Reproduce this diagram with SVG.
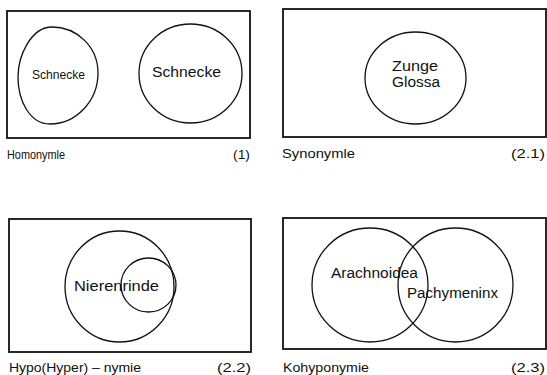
<svg xmlns="http://www.w3.org/2000/svg" width="547" height="375" viewBox="0 0 547 375">
<style>
.frame{fill:none;stroke:#111;stroke-width:1.8}
.set{fill:none;stroke:#111;stroke-width:1.3}
text{font-family:"Liberation Sans","DejaVu Sans",Arial,sans-serif;fill:#111}
.lbl{font-size:14px}
.cap{font-size:12.5px}
.mid{text-anchor:middle}
</style>
<rect width="547" height="375" fill="#fff"/>
<g id="panel-1">
  <rect class="frame" x="7" y="11" width="243" height="127"/>
  <g id="node-schnecke-1">
    <path class="set" d="M52,27 C76,27 98,46 98,73 C98,101 76,124 50,124 C30,124 18,101 18,77 C18,56 31,27 52,27 Z"/>
    <text class="mid" x="58.5" y="79" font-size="12" textLength="53" lengthAdjust="spacingAndGlyphs">Schnecke</text>
  </g>
  <g id="node-schnecke-2">
    <ellipse class="set" cx="190.5" cy="73.5" rx="51.5" ry="49.5"/>
    <text class="lbl mid" x="186.5" y="77" textLength="69" lengthAdjust="spacingAndGlyphs">Schnecke</text>
  </g>
  <text class="cap" x="7" y="159" textLength="58" lengthAdjust="spacingAndGlyphs">Homonymle</text>
  <text class="cap" x="233" y="159" textLength="17" lengthAdjust="spacingAndGlyphs">(1)</text>
</g>
<g id="panel-2-1">
  <rect class="frame" x="283" y="9" width="263" height="128"/>
  <g id="node-zunge-glossa">
    <ellipse class="set" cx="415.5" cy="78" rx="50.5" ry="46"/>
    <text class="lbl mid" x="415" y="71" textLength="46" lengthAdjust="spacingAndGlyphs">Zunge</text>
    <text class="lbl mid" x="416" y="87" textLength="48" lengthAdjust="spacingAndGlyphs">Glossa</text>
  </g>
  <text class="cap" x="282" y="158" textLength="73" lengthAdjust="spacingAndGlyphs">Synonymle</text>
  <text class="cap" x="511" y="158" textLength="34" lengthAdjust="spacingAndGlyphs">(2.1)</text>
</g>
<g id="panel-2-2">
  <rect class="frame" x="9" y="219" width="242" height="133"/>
  <g id="node-outer">
    <ellipse class="set" cx="119.5" cy="286.5" rx="54.5" ry="55.5"/>
  </g>
  <g id="node-nierenrinde">
    <ellipse class="set" cx="148.5" cy="285" rx="27.5" ry="27"/>
    <text class="lbl mid" x="116.5" y="291" textLength="85" lengthAdjust="spacingAndGlyphs">Nierenrinde</text>
  </g>
  <text class="cap" x="9" y="372" textLength="132" lengthAdjust="spacingAndGlyphs">Hypo(Hyper) – nymie</text>
  <text class="cap" x="217" y="372" textLength="34" lengthAdjust="spacingAndGlyphs">(2.2)</text>
</g>
<g id="panel-2-3">
  <rect class="frame" x="283" y="218" width="263" height="131"/>
  <g id="node-arachnoidea">
    <ellipse class="set" cx="370" cy="285" rx="58" ry="57"/>
    <text class="lbl" x="331" y="278" textLength="87" lengthAdjust="spacingAndGlyphs">Arachnoidea</text>
  </g>
  <g id="node-pachymeninx">
    <ellipse class="set" cx="455.5" cy="285" rx="57.5" ry="57"/>
    <text class="lbl" x="407" y="298" textLength="91" lengthAdjust="spacingAndGlyphs">Pachymeninx</text>
  </g>
  <text class="cap" x="283" y="372" textLength="86" lengthAdjust="spacingAndGlyphs">Kohyponymie</text>
  <text class="cap" x="511" y="372" textLength="34" lengthAdjust="spacingAndGlyphs">(2.3)</text>
</g>
<g id="connectors"></g>
</svg>
